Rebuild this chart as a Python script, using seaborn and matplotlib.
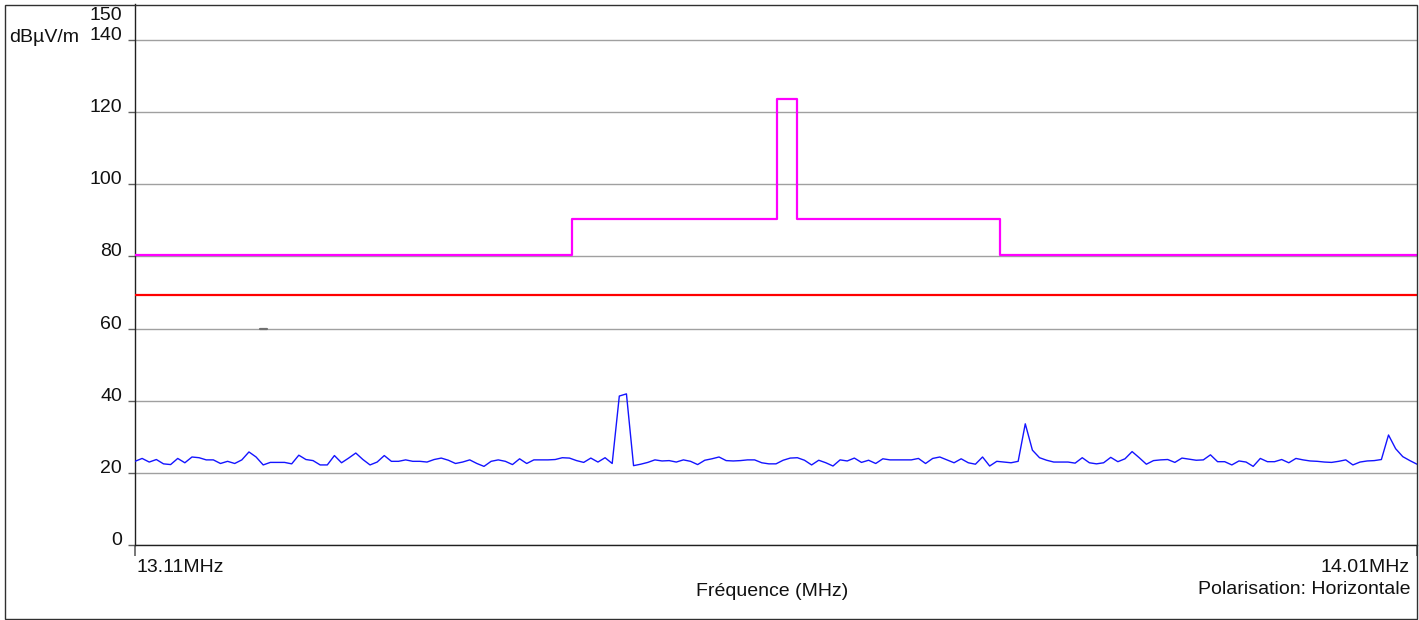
import numpy as np
import pandas as pd
import matplotlib
matplotlib.use("Agg")
import matplotlib.pyplot as plt
from matplotlib.patches import Rectangle
import seaborn as sns

# Measured field strength (dBµV/m) across the sweep, 13.11 - 14.01 MHz
f_start, f_stop = 13.11, 14.01
level = [
    23.2, 24.0, 23.0, 23.7, 22.5, 22.3, 24.0, 22.8, 24.4, 24.2, 23.6, 23.6, 22.6, 23.2, 22.6, 23.6,
    25.8, 24.4, 22.2, 22.9, 22.9, 22.9, 22.5, 24.9, 23.7, 23.4, 22.2, 22.2, 24.8, 22.8, 24.1, 25.5,
    23.7, 22.2, 23.0, 24.8, 23.2, 23.2, 23.6, 23.2, 23.2, 23.0, 23.7, 24.1, 23.5, 22.6,
    23.0, 23.6, 22.6, 21.8, 23.2, 23.6, 23.2, 22.3, 23.9, 22.6, 23.6, 23.6, 23.6, 23.7, 24.2, 24.1,
    23.4, 22.9, 24.1, 23.0, 24.2, 22.6, 41.3, 41.9, 22.0, 22.4, 22.9, 23.6, 23.3, 23.4, 23.0, 23.6,
    23.2, 22.3, 23.5, 23.9, 24.4, 23.4, 23.3, 23.4, 23.6, 23.6, 22.8, 22.5, 22.5,
    23.5, 24.1, 24.2, 23.5, 22.2, 23.5, 22.8, 21.9, 23.6, 23.3, 24.1, 22.9, 23.5, 22.6, 23.9, 23.6,
    23.6, 23.6, 23.6, 24.0, 22.6, 24.0, 24.4, 23.6, 22.8, 23.9, 22.8, 22.4, 24.4, 21.9, 23.2, 23.0,
    22.8, 23.2, 33.6, 26.3, 24.2, 23.5, 23.0, 23.0, 23.0, 22.7, 24.2, 22.8, 22.5,
    22.8, 24.3, 23.1, 23.9, 25.9, 24.2, 22.4, 23.4, 23.6, 23.7, 22.9, 24.1, 23.8, 23.5, 23.6, 25.0,
    23.1, 23.1, 22.2, 23.3, 23.0, 21.8, 24.0, 23.1, 23.1, 23.7, 22.8, 24.0, 23.6, 23.3, 23.2, 23.0,
    22.9, 23.2, 23.6, 22.2, 23.0, 23.3, 23.4, 23.7, 30.5, 26.7, 24.5, 23.4, 22.4,
]

# Spectrum mask (step edges and levels)
mask_freq = [13.11, 13.417, 13.561, 13.575, 13.717, 14.01]
mask_level = [80.5, 90.3, 123.7, 90.3, 80.5, 80.5]

# Limit line
limit_freq = [13.11, 14.01]
limit_level = [69.3, 69.3]

# Short marker on the 60 dB grid line
marker_freq = [13.1975, 13.2025]
marker_level = [60, 60]

y_ticks = [0, 20, 40, 60, 80, 100, 120, 140]

sns.set_theme(style="white")
plt.rcParams["font.family"] = ["Liberation Sans", "DejaVu Sans"]

W, H = 1419, 620
fig = plt.figure(figsize=(W / 100, H / 100), dpi=100)
ax = fig.add_axes([135 / W, 1 - 545 / H, (1417 - 135) / W, (545 - 4) / H])

trace = pd.DataFrame({"freq": np.linspace(f_start, f_stop, len(level)), "level": level})
mask = pd.DataFrame({"freq": mask_freq, "level": mask_level})
limit = pd.DataFrame({"freq": limit_freq, "level": limit_level})
mark = pd.DataFrame({"freq": marker_freq, "level": marker_level})

ax.set_xlim(f_start, f_stop)
ax.set_ylim(0, 150)
ax.set_yticks(y_ticks)
ax.grid(axis="y", color="#a0a0a0", linewidth=1.0)
ax.grid(axis="x", visible=False)
ax.set_axisbelow(True)

sns.lineplot(data=mark, x="freq", y="level", ax=ax, color="#707070", linewidth=1.6, zorder=2)
sns.lineplot(data=trace, x="freq", y="level", ax=ax, color="#1414ff", linewidth=1.0, zorder=3)
sns.lineplot(data=limit, x="freq", y="level", ax=ax, color="#ff0000", linewidth=1.6, zorder=3)
sns.lineplot(data=mask, x="freq", y="level", ax=ax, color="#ff00ff", linewidth=1.6,
             drawstyle="steps-post", zorder=4)

ax.set_xlabel("")
ax.set_ylabel("")

# Axes frame
for side in ("top", "right"):
    ax.spines[side].set_visible(False)
for side in ("left", "bottom"):
    ax.spines[side].set_color("#202020")
    ax.spines[side].set_linewidth(1.0)

ax.set_xticks([f_start, f_stop])
ax.set_xticklabels([])
ax.tick_params(axis="x", direction="out", length=8, width=1.2, color="#606060", bottom=True)
ax.tick_params(axis="y", direction="out", length=5, width=1.0, color="#606060", left=True,
               labelsize=14, pad=4.3, labelcolor="#111111")
for lab in ax.get_yticklabels():
    lab.set_verticalalignment("baseline")

ax.annotate("150", xy=(0, 150), xycoords=("axes fraction", "data"),
            xytext=(-13, -11), textcoords="offset pixels", ha="right", va="center",
            fontsize=14, color="#111111")

fs = 14
fig.text(9 / W, 1 - 37.5 / H, "dBµV/m", ha="left", va="center", fontsize=fs, color="#111111")
fig.text(137 / W, 1 - 567 / H, "13.11MHz", ha="left", va="center", fontsize=fs, color="#111111")
fig.text(1410 / W, 1 - 568 / H, "14.01MHz", ha="right", va="center", fontsize=fs, color="#111111")
fig.text(772.5 / W, 1 - 591 / H, "Fréquence (MHz)", ha="center", va="center", fontsize=fs,
         color="#111111")
fig.text(1410 / W, 1 - 590 / H, "Polarisation: Horizontale", ha="right", va="center",
         fontsize=fs, color="#111111")

# Outer frame around the whole chart
fig.patches.append(Rectangle((4.5 / W, 1 - 618.5 / H), (1417 - 4.5) / W, (618.5 - 4.5) / H,
                             transform=fig.transFigure, fill=False, edgecolor="#303030",
                             linewidth=1.0, zorder=10))

fig.savefig("out.png", dpi=100, facecolor="white")
